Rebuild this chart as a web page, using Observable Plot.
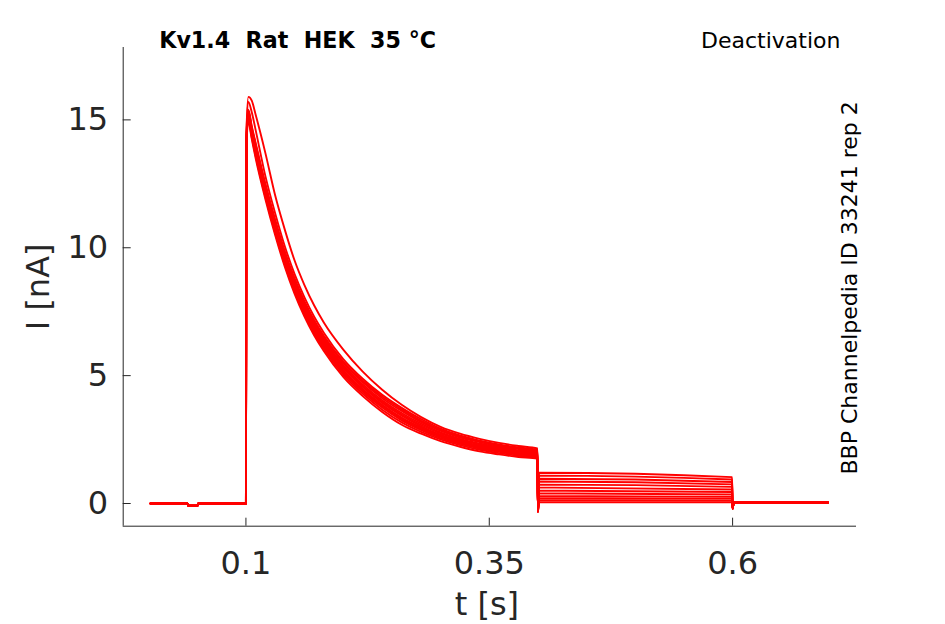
<!DOCTYPE html>
<html>
<head>
<meta charset="utf-8">
<script src="https://cdn.jsdelivr.net/npm/d3@7"></script>
<script src="https://cdn.jsdelivr.net/npm/@observablehq/plot@0.6"></script>
<style>
  html, body { margin: 0; padding: 0; background: #ffffff; }
  #chart { width: 945px; height: 624px; }
</style>
</head>
<body>
<div id="chart"></div>
<script>
// ---- chart values ----
const titleText = "Kv1.4  Rat  HEK  35 °C";
const protocolText = "Deactivation";
const sourceText = "BBP Channelpedia ID 33241 rep 2";
const xLabel = "t [s]";
const yLabel = "I [nA]";

const xTicks = [0.1, 0.35, 0.6];
const xTickLabels = ["0.1", "0.35", "0.6"];
const yTicks = [0, 5, 10, 15];
const yTickLabels = ["0", "5", "10", "15"];
const xDomain = [-0.0261, 0.7273];
const yDomain = [-0.887, 17.83];

// holding baseline before the step (shared by all sweeps)
const preT = [0.002, 0.040, 0.041, 0.050, 0.051, 0.0995];
const preI = [0.00, 0.00, -0.09, -0.09, 0.00, 0.00];

// activation / inactivation phase, one row per sweep
const decayT = [0.1, 0.1005, 0.1025, 0.106, 0.11, 0.12, 0.13, 0.14, 0.15, 0.16, 0.17, 0.18,
                0.2, 0.22, 0.24, 0.26, 0.28, 0.3, 0.32, 0.34, 0.36, 0.38, 0.3995];
const sweep1  = [0, 13.7,  14.9,  14.25, 13.5,  11.9,  10.5,  9.25, 8.2,  7.32, 6.58, 5.96, 4.95, 4.2,  3.58, 3.08, 2.73, 2.44, 2.22, 2.04, 1.92, 1.82, 1.75];
const sweep2  = [0, 13.8,  14.97, 14.32, 13.59, 11.99, 10.59, 9.34, 8.29, 7.41, 6.67, 6.05, 5.04, 4.29, 3.67, 3.17, 2.8,  2.51, 2.28, 2.1,  1.97, 1.87, 1.8];
const sweep3  = [0, 13.85, 15.04, 14.39, 13.67, 12.07, 10.67, 9.42, 8.37, 7.49, 6.75, 6.13, 5.12, 4.37, 3.75, 3.25, 2.87, 2.56, 2.33, 2.15, 2.02, 1.91, 1.84];
const sweep4  = [0, 13.95, 15.09, 14.44, 13.73, 12.13, 10.73, 9.48, 8.43, 7.55, 6.81, 6.19, 5.18, 4.43, 3.81, 3.31, 2.92, 2.61, 2.37, 2.19, 2.06, 1.95, 1.87];
const sweep5  = [0, 14.0,  15.14, 14.49, 13.78, 12.18, 10.78, 9.53, 8.48, 7.6,  6.86, 6.24, 5.23, 4.48, 3.86, 3.36, 2.97, 2.65, 2.41, 2.23, 2.09, 1.98, 1.9];
const sweep6  = [0, 14.05, 15.19, 14.54, 13.85, 12.25, 10.85, 9.6,  8.55, 7.67, 6.93, 6.31, 5.3,  4.55, 3.93, 3.43, 3.02, 2.69, 2.45, 2.27, 2.13, 2.02, 1.93];
const sweep7  = [0, 14.1,  15.24, 14.59, 13.9,  12.3,  10.9,  9.65, 8.6,  7.72, 6.98, 6.36, 5.35, 4.6,  3.98, 3.48, 3.07, 2.74, 2.49, 2.31, 2.16, 2.05, 1.97];
const sweep8  = [0, 14.15, 15.29, 14.64, 13.96, 12.36, 10.96, 9.71, 8.66, 7.78, 7.04, 6.42, 5.41, 4.66, 4.04, 3.54, 3.12, 2.78, 2.53, 2.35, 2.2,  2.08, 2.0];
const sweep9  = [0, 14.25, 15.35, 14.7,  14.04, 12.44, 11.04, 9.79, 8.74, 7.86, 7.12, 6.5,  5.49, 4.74, 4.12, 3.62, 3.18, 2.84, 2.58, 2.4,  2.24, 2.13, 2.04];
const sweep10 = [0, 14.3,  15.4,  14.75, 14.1,  12.5,  11.1,  9.85, 8.8,  7.92, 7.18, 6.56, 5.55, 4.8,  4.18, 3.68, 3.23, 2.88, 2.62, 2.44, 2.28, 2.16, 2.07];
const sweep11 = [0, 14.4,  15.7,  15.3,  14.6,  12.8,  11.35, 10.05, 8.97, 8.07, 7.31, 6.68, 5.65, 4.88, 4.25, 3.74, 3.3,  2.93, 2.66, 2.46, 2.31, 2.19, 2.1];
const sweep12 = [0, 14.5,  15.9,  15.75, 15.2,  13.7,  12.05, 10.7, 9.5,  8.55, 7.75, 7.08, 6.02, 5.16, 4.45, 3.86, 3.38, 3.0,  2.73, 2.53, 2.37, 2.25, 2.15];
const decaySweeps = [sweep1, sweep2, sweep3, sweep4, sweep5, sweep6, sweep7, sweep8, sweep9, sweep10, sweep11, sweep12];

// deactivation (tail) levels at start and end of the second step, per sweep
const tailStart = [0.05, 0.13, 0.21, 0.29, 0.39, 0.50, 0.62, 0.74, 0.86, 0.97, 1.09, 1.20];
const tailEnd   = [0.05, 0.12, 0.19, 0.26, 0.35, 0.45, 0.55, 0.65, 0.75, 0.84, 0.94, 1.03];
// capacitive dips at the voltage steps and return to holding
const stepT = [0.4, 0.4012, 0.5995, 0.6, 0.6012, 0.698];
const dipAtStep2 = -0.32;
const dipAtStep3 = -0.2;
const holdAfter = 0.04;

// ---- build table for the library ----
const rows = [];
decaySweeps.forEach((sw, k) => {
  preT.forEach((t, i) => rows.push({sweep: k, t, I: preI[i]}));
  decayT.forEach((t, i) => rows.push({sweep: k, t, I: sw[i]}));
  const tailI = [dipAtStep2, tailStart[k], tailEnd[k], dipAtStep3, holdAfter, holdAfter];
  stepT.forEach((t, i) => rows.push({sweep: k, t, I: tailI[i]}));
});

const axisColor = "#262626";
const chart = Plot.plot({
  width: 945,
  height: 624,
  marginLeft: 122.7,
  marginRight: 89,
  marginTop: 47,
  marginBottom: 98.3,
  style: {fontFamily: "DejaVu Sans", background: "#ffffff", color: axisColor, overflow: "visible"},
  x: {domain: xDomain},
  y: {domain: yDomain},
  marks: [
    Plot.line(rows, {x: "t", y: "I", z: "sweep", stroke: "#ff0000", strokeWidth: 1.9, curve: "monotone-x"}),
    Plot.ruleX([xDomain[0]], {stroke: axisColor, strokeWidth: 1}),
    Plot.ruleY([yDomain[0]], {stroke: axisColor, strokeWidth: 1}),
    Plot.axisX(xTicks, {anchor: "bottom", tickSize: -8, tickPadding: 33, fontSize: 32,
      tickFormat: d => xTickLabels[xTicks.indexOf(d)], label: null, stroke: axisColor, fill: axisColor}),
    Plot.axisY(yTicks, {anchor: "left", tickSize: -8, tickPadding: 23, fontSize: 32,
      tickFormat: d => yTickLabels[yTicks.indexOf(d)], label: null, stroke: axisColor, fill: axisColor}),
    Plot.text([xLabel], {frameAnchor: "bottom", dy: 89, dx: -3, textAnchor: "middle", lineAnchor: "bottom", fontSize: 32, fill: axisColor}),
    Plot.text([yLabel], {frameAnchor: "left", rotate: -90, dx: -74, textAnchor: "middle", lineAnchor: "bottom", fontSize: 32, fill: axisColor}),
    Plot.text([titleText], {frameAnchor: "top-left", dx: 36, dy: 0, textAnchor: "start", lineAnchor: "bottom", fontSize: 22.2, fontWeight: "bold", fill: "#000000"}),
    Plot.text([protocolText], {frameAnchor: "top-right", dx: -16, dy: 0, textAnchor: "end", lineAnchor: "bottom", fontSize: 22, fill: "#000000"}),
    Plot.text([sourceText], {frameAnchor: "right", rotate: -90, dx: 0, dy: 1, textAnchor: "middle", lineAnchor: "bottom", fontSize: 22, fill: "#000000"})
  ]
});
document.getElementById("chart").appendChild(chart);
</script>
</body>
</html>
